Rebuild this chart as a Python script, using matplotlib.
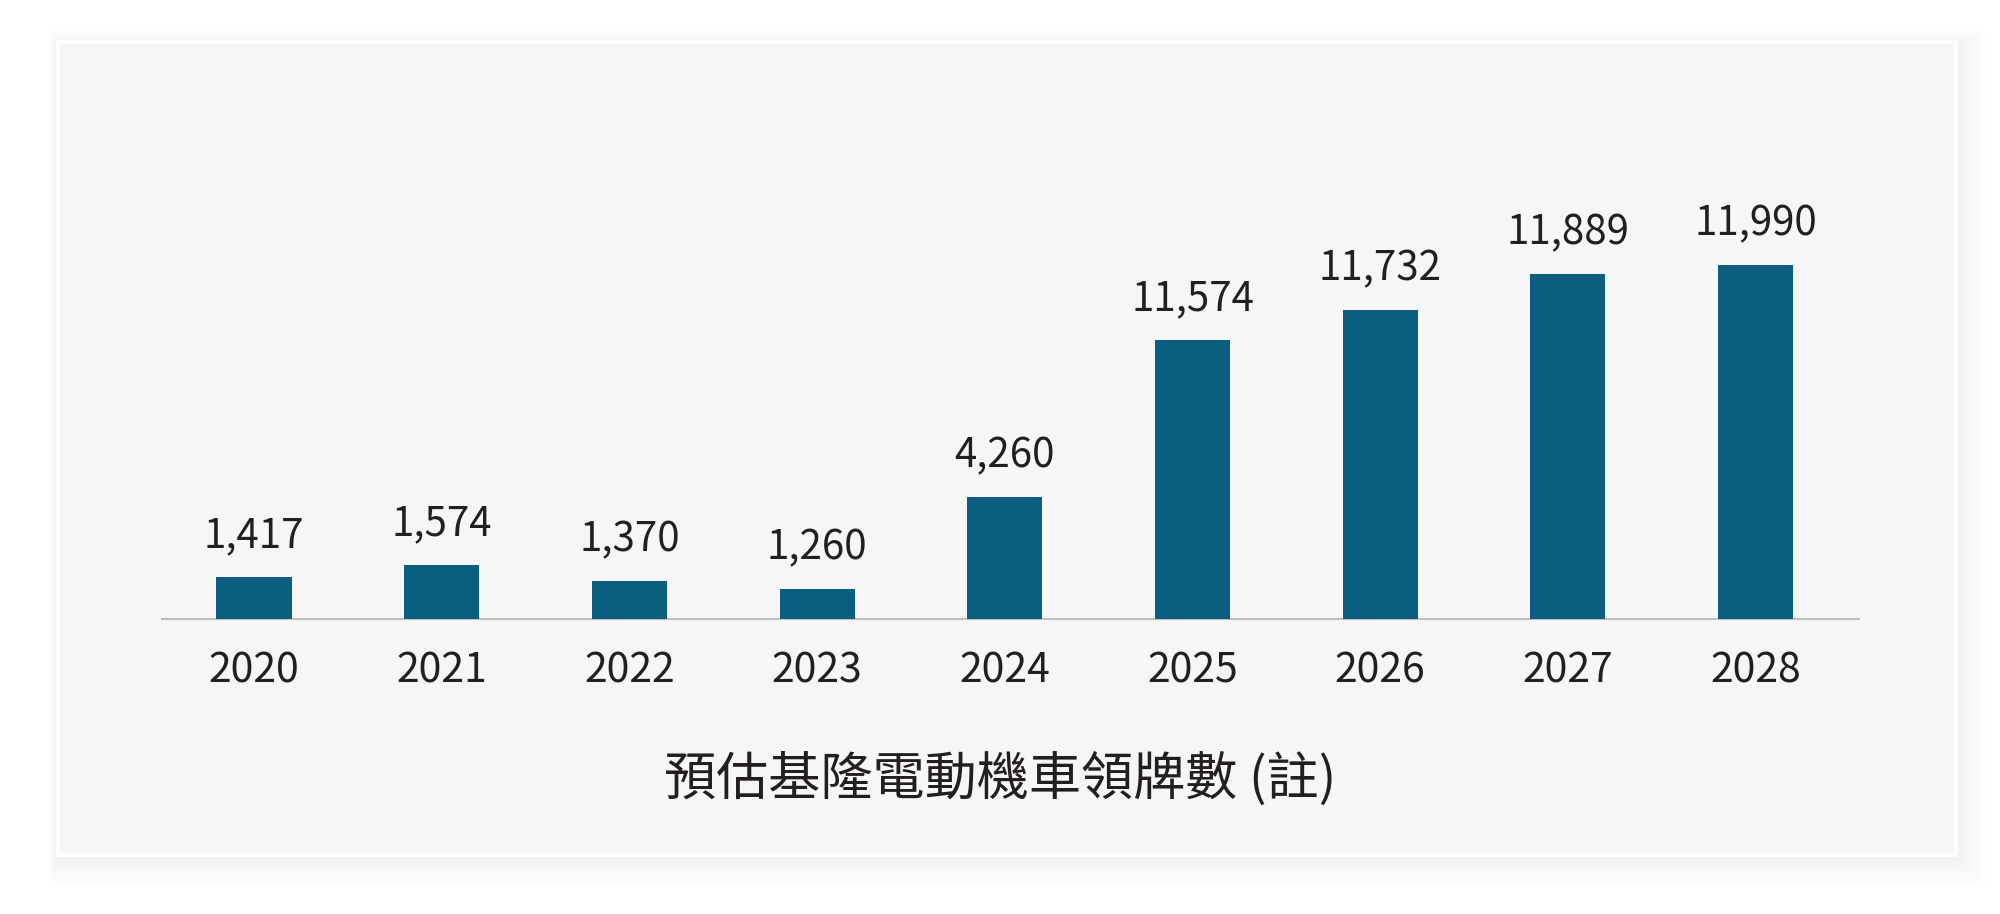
import matplotlib
matplotlib.use("Agg")
import matplotlib.pyplot as plt
from matplotlib.patches import Rectangle

plt.rcParams['font.family'] = ['Noto Sans CJK TC', 'DejaVu Sans']

# data
years = ['2020', '2021', '2022', '2023', '2024', '2025', '2026', '2027', '2028']
plates = [1417, 1574, 1370, 1260, 4260, 11574, 11732, 11889, 11990]
# the bars in the original are not drawn to scale; heights as drawn (same units)
drawn = [1423, 1829, 1287, 1016, 4132, 9450, 10466, 11685, 11990]
title = '預估基隆電動機車領牌數 (註)'

bar_color = '#0b5e80'
text_color = '#231f20'
W, H = 2000, 914

fig = plt.figure(figsize=(20, 9.14), dpi=100)
fig.patch.set_facecolor('white')

# soft shadow behind the panel
px0, py0, px1, py1 = 60, 44, 1954, 853
for i in range(14, 0, -1):
    s = i * 2.2
    fig.patches.append(Rectangle(((px0 - s * 0.4) / W, (H - py1 - s * 1.1) / H),
                                 (px1 - px0 + s * 1.5) / W, (py1 - py0 + s * 1.6) / H,
                                 transform=fig.transFigure, facecolor='#000000',
                                 alpha=0.0025, edgecolor='none', zorder=-10))
# white frame + light gray panel
fig.patches.append(Rectangle(((px0 - 4) / W, (H - py1 - 4) / H),
                             (px1 - px0 + 8) / W, (py1 - py0 + 8) / H,
                             transform=fig.transFigure, facecolor='#fdfdfd',
                             edgecolor='none', zorder=-9))
fig.patches.append(Rectangle((px0 / W, (H - py1) / H), (px1 - px0) / W, (py1 - py0) / H,
                             transform=fig.transFigure, facecolor='#f6f6f6',
                             edgecolor='none', zorder=-8))

step = 187.7
ax = fig.add_axes([162 / W, (H - 619) / H, 9.04 * step / W, 413 / H])
ax.patch.set_alpha(0)

x = range(len(years))
ax.bar(x, drawn, width=0.4, color=bar_color, zorder=3)
ax.set_xlim(-0.49, len(years) - 0.45)
ax.set_ylim(0, 14000)

for xi, h, v in zip(x, drawn, plates):
    ax.annotate(f'{v:,}', (xi, h), xytext=(0, 21.5), textcoords='offset points',
                ha='center', va='baseline', fontsize=29, color=text_color)

for sp in ['top', 'right', 'left']:
    ax.spines[sp].set_visible(False)
ax.spines['bottom'].set_color('#bfbfbf')
ax.spines['bottom'].set_linewidth(1.5)
ax.set_yticks([])
ax.set_xticks(list(x))
ax.set_xticklabels(years, fontsize=29.5, color=text_color)
ax.tick_params(axis='x', length=0, pad=23)

fig.text(1000 / W, (H - 795) / H, title, ha='center', va='baseline',
         fontsize=37.5, color=text_color)

fig.savefig('out.png', dpi=100)
